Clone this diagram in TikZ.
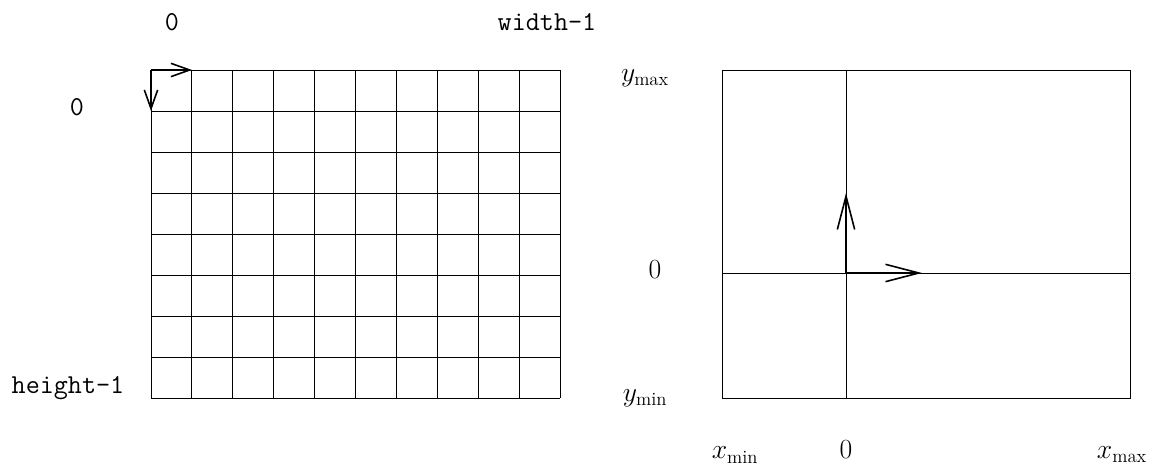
\documentclass[tikz,border=0pt]{standalone}
\usepackage{fontspec}
\usetikzlibrary{arrows.meta}
\tikzset{
  gridline/.style={line width=0.7pt, black},
  boxline/.style={line width=0.65pt, black},
  smallarrow/.style={line width=1.4pt, -{Straight Barb[length=14pt,width=10pt,line width=1.2pt]}},
  bigarrow/.style={line width=1.4pt, -{Straight Barb[length=25pt,width=13pt,line width=1.2pt]}},
  ttlabel/.style={font=\fontsize{20.5}{22}\selectfont\ttfamily, inner sep=0pt},
  mathlabel/.style={font=\fontsize{20}{24}\selectfont, inner sep=0pt}
}
\begin{document}
\begin{tikzpicture}[x=0.75pt,y=-0.75pt]
\useasboundingbox (0,0) rectangle (1162,466);
% left grid
\foreach \i in {0,...,10} {
  \draw[gridline] ({151+40.9*\i},70) -- ({151+40.9*\i},398);
}
\foreach \j in {0,...,8} {
  \draw[gridline] (151,{70+41*\j}) -- (560,{70+41*\j});
}
\coordinate (o1) at (151,70);
\coordinate (ex1) at (192,70);
\coordinate (ey1) at (151,111);
\draw[smallarrow] (o1) -- (ex1);
\draw[smallarrow] (o1) -- (ey1);
% left labels
\node[ttlabel] (l0x) at (172,22) {0};
\node[ttlabel] (lw) at (547,22) {width-1};
\node[ttlabel] (l0y) at (77,107) {0};
\node[ttlabel] (lh) at (68,388) {height-1};
% right box
\draw[boxline] (722,70) rectangle (1130,398);
\coordinate (vt) at (846,70);
\coordinate (vb) at (846,398);
\coordinate (hl) at (722,273);
\coordinate (hr) at (1130,273);
\draw[boxline] (vt) -- (vb);
\draw[boxline] (hl) -- (hr);
\coordinate (o2) at (846,273);
\coordinate (ex2) at (922,273);
\coordinate (ey2) at (846,193);
\draw[bigarrow] (o2) -- (ex2);
\draw[bigarrow] (o2) -- (ey2);
% right labels
\node[mathlabel] (ymax) at (645,78) {$y_{\max}$};
\node[mathlabel] (r0y) at (655,270) {$0$};
\node[mathlabel] (ymin) at (645,398) {$y_{\min}$};
\node[mathlabel] (xmin) at (735,455) {$x_{\min}$};
\node[mathlabel] (r0x) at (846,450) {$0$};
\node[mathlabel] (xmax) at (1122,455) {$x_{\max}$};
\end{tikzpicture}
\end{document}
